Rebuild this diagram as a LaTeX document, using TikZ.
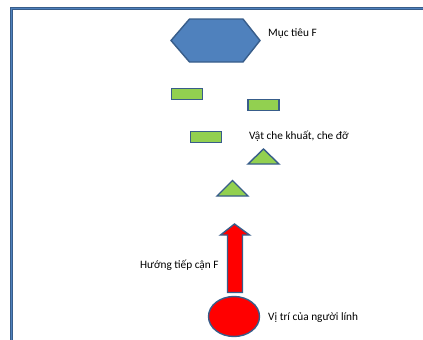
\documentclass[tikz,border=0pt]{standalone}
\usepackage{fontspec}
\setmainfont{Carlito}
\usetikzlibrary{shapes.geometric}
\definecolor{frameblue}{RGB}{79,129,189}
\definecolor{edgeblue}{RGB}{56,93,138}
\definecolor{barfill}{RGB}{146,208,80}
\tikzset{
  lbl/.style={font=\fontsize{11.3}{13}\selectfont, anchor=west, inner sep=0pt, text=black},
  bar/.style={draw=edgeblue, line width=1.4pt, fill=barfill, minimum width=31pt, minimum height=11pt, inner sep=0pt},
  shp/.style={draw=edgeblue, line width=1.4pt, line join=miter},
}
\begin{document}
\begin{tikzpicture}[x=1pt,y=-1pt]
\useasboundingbox (0,0) rectangle (423,340);
\clip (0,0) rectangle (423,340);
% frame
\draw[edgeblue, line width=2.4pt] (11.5,345) -- (11.5,8.5) -- (430,8.5);
\draw[frameblue, line width=0.9pt] (11.5,345) -- (11.5,8.5) -- (430,8.5);
% target hexagon
\draw[shp, fill=frameblue] (171,40.5) -- (189.5,19) -- (243,19) -- (260,40.5) -- (243,62) -- (189.5,62) -- cycle;
\node[lbl] (target) at (268,34) {Mục tiêu F};
% bars
\node[bar] (b1) at (187,94) {};
\node[bar] (b2) at (263.5,105) {};
\node[bar] (b3) at (206,137) {};
\node[lbl] (cover) at (249,136) {Vật che khuất, che đỡ};
% triangles
\draw[shp, fill=barfill] (263.5,149) -- (279,164) -- (248,164) -- cycle;
\draw[shp, fill=barfill] (232.5,180.5) -- (248,196) -- (217,196) -- cycle;
% soldier
\node[ellipse, draw=edgeblue, line width=1.4pt, fill=red, minimum width=51pt, minimum height=40pt, inner sep=0pt] (soldier) at (234,316.5) {};
\node[lbl] (pos) at (268,318) {Vị trí của người lính};
% approach arrow
\coordinate (tip) at (234.5,224);
\draw[shp, fill=red] (tip) -- (249.5,235) -- (242.5,235) -- (242.5,292.5) -- (227.5,292.5) -- (227.5,235) -- (220.5,235) -- cycle;
\node[lbl] (dir) at (140,265) {Hướng tiếp cận F};
\end{tikzpicture}
\end{document}
